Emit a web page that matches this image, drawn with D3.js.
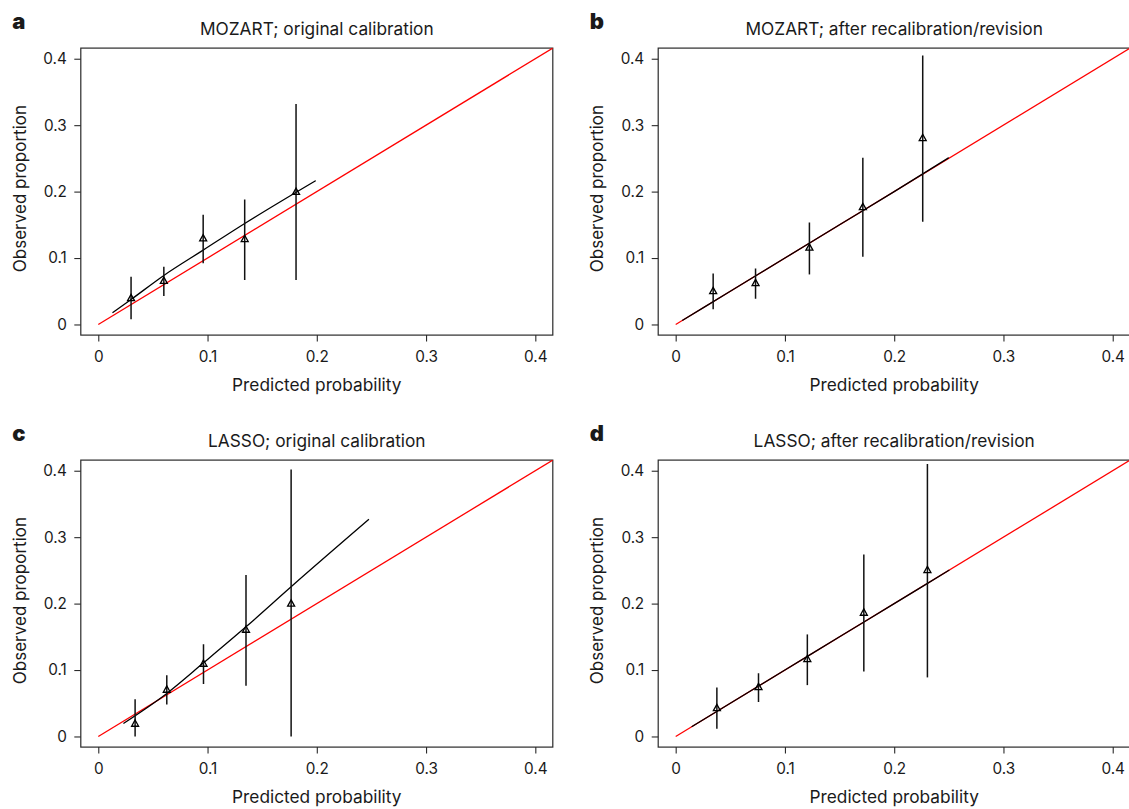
<!DOCTYPE html>
<html>
<head>
<meta charset="utf-8">
<script src="https://cdn.jsdelivr.net/npm/d3@7"></script>
<style>
  html, body { margin: 0; padding: 0; background: #fff; }
  svg { display: block; }
  text { font-family: Inter, "Noto Sans", sans-serif; fill: #1a1a1a; }
</style>
</head>
<body>
<svg id="chart" width="1129" height="809"></svg>
<script>
// ---------- data ----------
const panelLetters = ["a", "b", "c", "d"];
const panelTitles = [
  "MOZART; original calibration",
  "MOZART; after recalibration/revision",
  "LASSO; original calibration",
  "LASSO; after recalibration/revision"
];
const xAxisTitle = "Predicted probability";
const yAxisTitle = "Observed proportion";
const xTicks = [0, 0.1, 0.2, 0.3, 0.4];
const xTickLabels = ["0", "0.1", "0.2", "0.3", "0.4"];
const yTicks = [0, 0.1, 0.2, 0.3, 0.4];
const yTickLabels = ["0", "0.1", "0.2", "0.3", "0.4"];
const axisDomain = [-0.016, 0.416];
const idealLine = [0, 0.416];

// panel a: MOZART original
const aPred = [0.030, 0.060, 0.096, 0.134, 0.181];
const aObs  = [0.040, 0.066, 0.130, 0.129, 0.200];
const aLow  = [0.008, 0.043, 0.092, 0.067, 0.067];
const aHigh = [0.072, 0.087, 0.165, 0.188, 0.332];
const aCurveX = [0.013, 0.030, 0.060, 0.096, 0.134, 0.199];
const aCurveY = [0.0176, 0.0376, 0.0738, 0.1119, 0.152, 0.2165];

// panel b: MOZART recalibrated
const bPred = [0.0343, 0.0731, 0.1224, 0.1713, 0.2261];
const bObs  = [0.0506, 0.0627, 0.1160, 0.1771, 0.2810];
const bLow  = [0.0230, 0.0386, 0.0753, 0.1018, 0.1545];
const bHigh = [0.0768, 0.0843, 0.1536, 0.2509, 0.4050];
const bCurveX = [0.006, 0.05, 0.10, 0.15, 0.20, 0.25];
const bCurveY = [0.006, 0.05, 0.10, 0.15, 0.20, 0.251];

// panel c: LASSO original
const cPred = [0.0337, 0.0627, 0.0963, 0.1352, 0.1765];
const cObs  = [0.0196, 0.0708, 0.1099, 0.1611, 0.2003];
const cLow  = [0.0000, 0.0482, 0.0788, 0.0762, 0.0000];
const cHigh = [0.0562, 0.0923, 0.1390, 0.2429, 0.4020];
const cCurveX = [0.023, 0.0627, 0.0963, 0.1352, 0.1765, 0.2477];
const cCurveY = [0.0196, 0.0648, 0.1108, 0.1650, 0.2253, 0.3268];

// panel d: LASSO recalibrated
const dPred = [0.0377, 0.0758, 0.1205, 0.1722, 0.2304];
const dObs  = [0.0431, 0.0747, 0.1169, 0.1867, 0.2509];
const dLow  = [0.0115, 0.0517, 0.0773, 0.0979, 0.0889];
const dHigh = [0.0738, 0.0953, 0.1536, 0.2740, 0.4100];
const dCurveX = [0.0146, 0.05, 0.10, 0.15, 0.20, 0.2505];
const dCurveY = [0.0146, 0.05, 0.10, 0.15, 0.20, 0.2505];

const panelData = [
  {pred: aPred, obs: aObs, low: aLow, high: aHigh, cx: aCurveX, cy: aCurveY},
  {pred: bPred, obs: bObs, low: bLow, high: bHigh, cx: bCurveX, cy: bCurveY},
  {pred: cPred, obs: cObs, low: cLow, high: cHigh, cx: cCurveX, cy: cCurveY},
  {pred: dPred, obs: dObs, low: dLow, high: dHigh, cx: dCurveX, cy: dCurveY}
];

// ---------- layout ----------
const W = 472, H = 287;
const lefts = [80.8, 658.2, 80.8, 658.2];
const tops  = [48.1, 48.1, 460.1, 460.1];

const svg = d3.select("#chart");
svg.append("rect").attr("width", 1129).attr("height", 809).attr("fill", "#fff");

panelData.forEach((p, i) => {
  const L = lefts[i], T = tops[i];
  const x = d3.scaleLinear().domain(axisDomain).range([L, L + W]);
  const y = d3.scaleLinear().domain(axisDomain).range([T + H, T]);
  const g = svg.append("g");

  // axes
  const xa = g.append("g").attr("transform", `translate(0,${T + H})`)
    .call(d3.axisBottom(x).tickValues(xTicks).tickFormat((d, k) => xTickLabels[k])
      .tickSize(6.5).tickPadding(9.5));
  const ya = g.append("g").attr("transform", `translate(${L},0)`)
    .call(d3.axisLeft(y).tickValues(yTicks).tickFormat((d, k) => yTickLabels[k])
      .tickSize(6.5).tickPadding(7.5));
  [xa, ya].forEach(a => {
    a.select(".domain").remove();
    a.selectAll(".tick line").attr("stroke", "#2a2a2a").attr("stroke-width", 1.1);
    a.selectAll(".tick text").attr("font-family", "Inter, 'Noto Sans', sans-serif")
      .attr("font-size", 15.3).attr("fill", "#1a1a1a");
  });

  // box
  g.append("rect").attr("x", L).attr("y", T).attr("width", W).attr("height", H)
    .attr("fill", "none").attr("stroke", "#2a2a2a").attr("stroke-width", 1.2);

  const clipId = "clip" + i;
  g.append("clipPath").attr("id", clipId).append("rect")
    .attr("x", L).attr("y", T).attr("width", W).attr("height", H);
  const inner = g.append("g").attr("clip-path", `url(#${clipId})`);

  // ideal red line
  inner.append("line")
    .attr("x1", x(idealLine[0])).attr("y1", y(idealLine[0]))
    .attr("x2", x(idealLine[1])).attr("y2", y(idealLine[1]))
    .attr("stroke", "#ff0000").attr("stroke-width", 1.3);

  // calibration curve
  const curve = p.cx.map((v, k) => [v, p.cy[k]]);
  inner.append("path").datum(curve)
    .attr("d", d3.line().x(d => x(d[0])).y(d => y(d[1])).curve(d3.curveMonotoneX))
    .attr("fill", "none").attr("stroke", "#000").attr("stroke-width", 1.3);

  // error bars
  inner.selectAll("line.err").data(p.pred).join("line").attr("class", "err")
    .attr("x1", d => x(d)).attr("x2", d => x(d))
    .attr("y1", (d, k) => y(p.low[k])).attr("y2", (d, k) => y(p.high[k]))
    .attr("stroke", "#111").attr("stroke-width", 1.5);

  // triangles (open)
  const s = 7;
  const tri = `M0,${-s * 0.5}L${s / 2},${s * 0.4}L${-s / 2},${s * 0.4}Z`;
  inner.selectAll("path.pt").data(p.pred).join("path").attr("class", "pt")
    .attr("transform", (d, k) => `translate(${x(d)},${y(p.obs[k])})`)
    .attr("d", tri).attr("fill", "none").attr("stroke", "#000").attr("stroke-width", 1.3);

  // titles
  g.append("text").attr("x", L + W / 2).attr("y", T - 13)
    .attr("text-anchor", "middle").attr("font-size", 17.3).text(panelTitles[i]);
  g.append("text").attr("x", L + W / 2).attr("y", T + H + 56)
    .attr("text-anchor", "middle").attr("font-size", 17.3).text(xAxisTitle);
  g.append("text")
    .attr("transform", `translate(${L - 55},${T + H / 2 - 3}) rotate(-90)`)
    .attr("text-anchor", "middle").attr("font-size", 17).text(yAxisTitle);
  g.append("text").attr("x", L - 68.5).attr("y", T - 19)
    .attr("font-size", 22).attr("font-weight", 900).attr("fill", "#000")
    .text(panelLetters[i]);
});
</script>
</body>
</html>
